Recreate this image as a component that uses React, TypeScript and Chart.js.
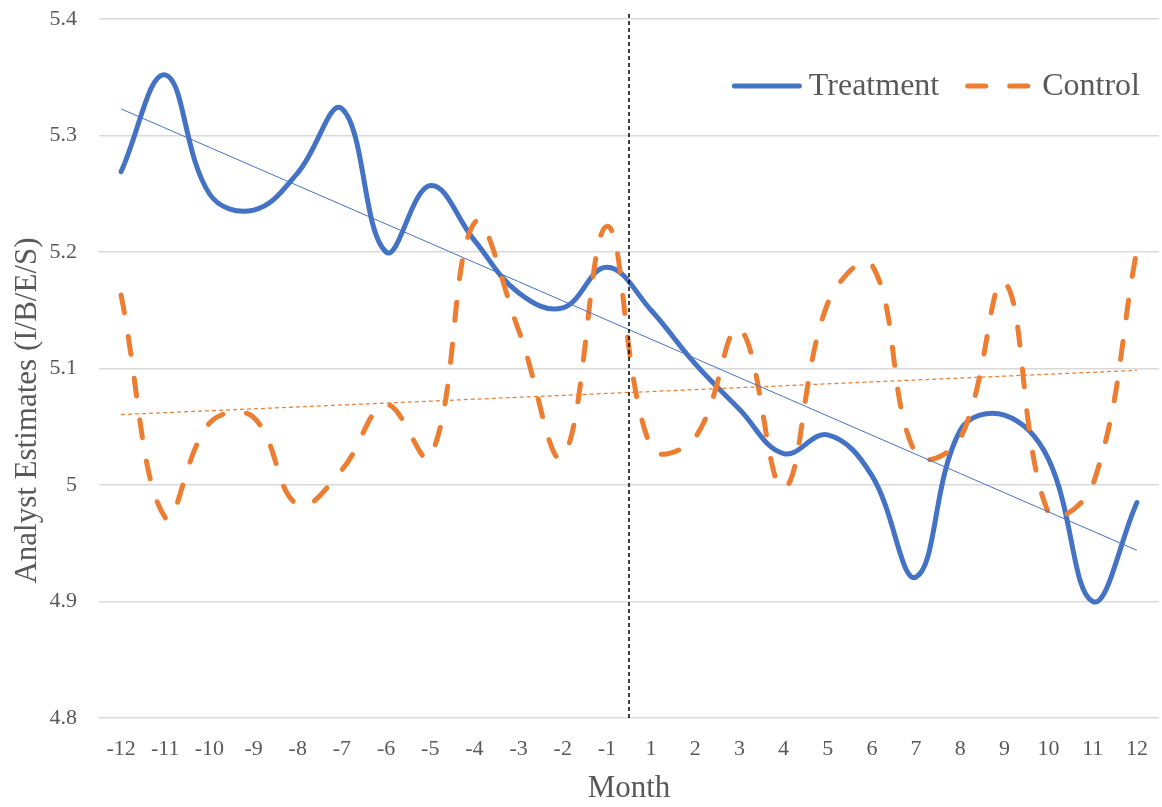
import React, { useEffect, useRef } from "react";
import { Chart, registerables } from "chart.js";

Chart.register(...registerables);

const months = [
  "-12", "-11", "-10", "-9", "-8", "-7", "-6", "-5", "-4", "-3", "-2", "-1",
  "1", "2", "3", "4", "5", "6", "7", "8", "9", "10", "11", "12",
];

const treatment = [
  5.269, 5.352, 5.25, 5.236, 5.268, 5.323, 5.2, 5.257, 5.21, 5.165, 5.152, 5.187,
  5.15, 5.104, 5.065, 5.027, 5.043, 5.008, 4.921, 5.047, 5.06, 5.022, 4.9, 4.985,
];

const control = [
  5.163, 4.972, 5.053, 5.058, 4.983, 5.013, 5.069, 5.024, 5.225, 5.133, 5.024, 5.222,
  5.032, 5.041, 5.134, 4.997, 5.156, 5.189, 5.026, 5.04, 5.174, 4.976, 5.0, 5.202,
];

const yMin = 4.8;
const yMax = 5.4;
const yStep = 0.1;
const yTitle = "Analyst Estimates (I/B/E/S)";
const xTitle = "Month";

const BLUE = "#4472C4";
const ORANGE = "#ED7D31";
const TEXT = "#595959";
const FONT = "'Liberation Serif', 'Times New Roman', serif";

function linearTrend(values: number[]): number[] {
  const n = values.length;
  const mx = (n - 1) / 2;
  const my = values.reduce((a, b) => a + b, 0) / n;
  let sxy = 0;
  let sxx = 0;
  values.forEach((v, i) => {
    sxy += (i - mx) * (v - my);
    sxx += (i - mx) * (i - mx);
  });
  const slope = sxy / sxx;
  return values.map((_, i) => my + slope * (i - mx));
}

const eventLinePlugin = {
  id: "eventLine",
  afterDatasetsDraw(chart: any) {
    const { ctx, chartArea, scales } = chart;
    const x = (scales.x.getPixelForValue(11) + scales.x.getPixelForValue(12)) / 2;
    ctx.save();
    ctx.beginPath();
    ctx.strokeStyle = "#000000";
    ctx.lineWidth = 1.5;
    ctx.setLineDash([4, 3]);
    ctx.moveTo(x, chartArea.top - 5);
    ctx.lineTo(x, chartArea.bottom);
    ctx.stroke();
    ctx.restore();
  },
};

const yTitlePlugin = {
  id: "yTitle",
  afterDraw(chart: any) {
    const { ctx } = chart;
    ctx.save();
    ctx.translate(28, chart.height / 2 + 7);
    ctx.rotate(-Math.PI / 2);
    ctx.font = `31px ${FONT}`;
    ctx.fillStyle = TEXT;
    ctx.textAlign = "center";
    ctx.textBaseline = "middle";
    ctx.fillText(yTitle, 0, 0);
    ctx.restore();
  },
};

const insideLegendPlugin = {
  id: "insideLegend",
  afterDraw(chart: any) {
    const { ctx, chartArea } = chart;
    const items = chart.data.datasets.filter((d: any) => d.showInLegend);
    const fontSize = 32;
    ctx.save();
    ctx.font = `${fontSize}px ${FONT}`;
    ctx.textBaseline = "middle";
    const lineLen = 70;
    const gapLineText = 7;
    const gapItems = 26;
    const widths = items.map((d: any) => lineLen + gapLineText + ctx.measureText(d.label).width);
    const total = widths.reduce((a: number, b: number) => a + b, 0) + gapItems * (items.length - 1);
    let x = chartArea.right - 19 - total;
    const y = chartArea.top + 67;
    items.forEach((d: any, i: number) => {
      ctx.beginPath();
      ctx.strokeStyle = d.borderColor;
      ctx.lineWidth = d.borderWidth;
      ctx.lineCap = "round";
      ctx.setLineDash(d.borderDash || []);
      ctx.moveTo(x + 2.5, y);
      ctx.lineTo(x + lineLen - 2.5, y);
      ctx.stroke();
      ctx.setLineDash([]);
      ctx.fillStyle = TEXT;
      ctx.textAlign = "left";
      ctx.fillText(d.label, x + lineLen + gapLineText, y + 1);
      x += widths[i] + gapItems;
    });
    ctx.restore();
  },
};

export default function App() {
  const canvasRef = useRef<HTMLCanvasElement | null>(null);

  useEffect(() => {
    if (!canvasRef.current) return;
    const chart = new Chart(canvasRef.current, {
      type: "line",
      data: {
        labels: months,
        datasets: [
          {
            label: "Treatment",
            data: treatment,
            borderColor: BLUE,
            backgroundColor: BLUE,
            borderWidth: 5,
            borderCapStyle: "round",
            tension: 0.4,
            pointRadius: 0,
            order: 2,
            showInLegend: true,
          } as any,
          {
            label: "Control",
            data: control,
            borderColor: ORANGE,
            backgroundColor: ORANGE,
            borderWidth: 5,
            borderDash: [18, 24],
            borderCapStyle: "round",
            tension: 0.4,
            pointRadius: 0,
            order: 1,
            showInLegend: true,
          } as any,
          {
            label: "Treatment trend",
            data: linearTrend(treatment),
            borderColor: BLUE,
            borderWidth: 1,
            tension: 0,
            pointRadius: 0,
            order: 0,
          } as any,
          {
            label: "Control trend",
            data: linearTrend(control),
            borderColor: ORANGE,
            borderWidth: 1.25,
            borderDash: [4, 3],
            tension: 0,
            pointRadius: 0,
            order: 0,
          } as any,
        ],
      },
      options: {
        responsive: false,
        animation: false,
        events: [],
        layout: { padding: { left: 0, top: 19, right: 3, bottom: 0 } },
        plugins: {
          legend: { display: false },
          tooltip: { enabled: false },
        },
        scales: {
          x: {
            type: "category",
            offset: true,
            grid: { display: false, drawTicks: false },
            border: { display: false },
            ticks: {
              color: TEXT,
              font: { family: FONT, size: 22 },
              padding: 18,
              maxRotation: 0,
              autoSkip: false,
            },
            title: {
              display: true,
              text: xTitle,
              color: TEXT,
              font: { family: FONT, size: 31, lineHeight: 1.2 },
              padding: { top: 0, bottom: 0 },
            },
            afterFit(scale: any) {
              scale.height = 89;
              scale.paddingLeft = 0;
              scale.paddingRight = 0;
            },
          },
          y: {
            type: "linear",
            min: yMin,
            max: yMax,
            grid: { color: "#D9D9D9", lineWidth: 1.5, drawTicks: false },
            border: { display: false },
            ticks: {
              stepSize: yStep,
              color: TEXT,
              font: { family: FONT, size: 22 },
              padding: 22,
              callback: (v: any) => String(Number(Number(v).toFixed(1))),
            },
            afterFit(scale: any) {
              scale.width = 99;
              scale.paddingTop = 0;
              scale.paddingBottom = 0;
            },
          },
        },
      },
      plugins: [eventLinePlugin, yTitlePlugin, insideLegendPlugin],
    });
    return () => chart.destroy();
  }, []);

  return (
    <div style={{ position: "absolute", left: 0, top: 0, width: 1162, height: 807, background: "#fff" }}>
      <canvas ref={canvasRef} width={1162} height={807} />
    </div>
  );
}
